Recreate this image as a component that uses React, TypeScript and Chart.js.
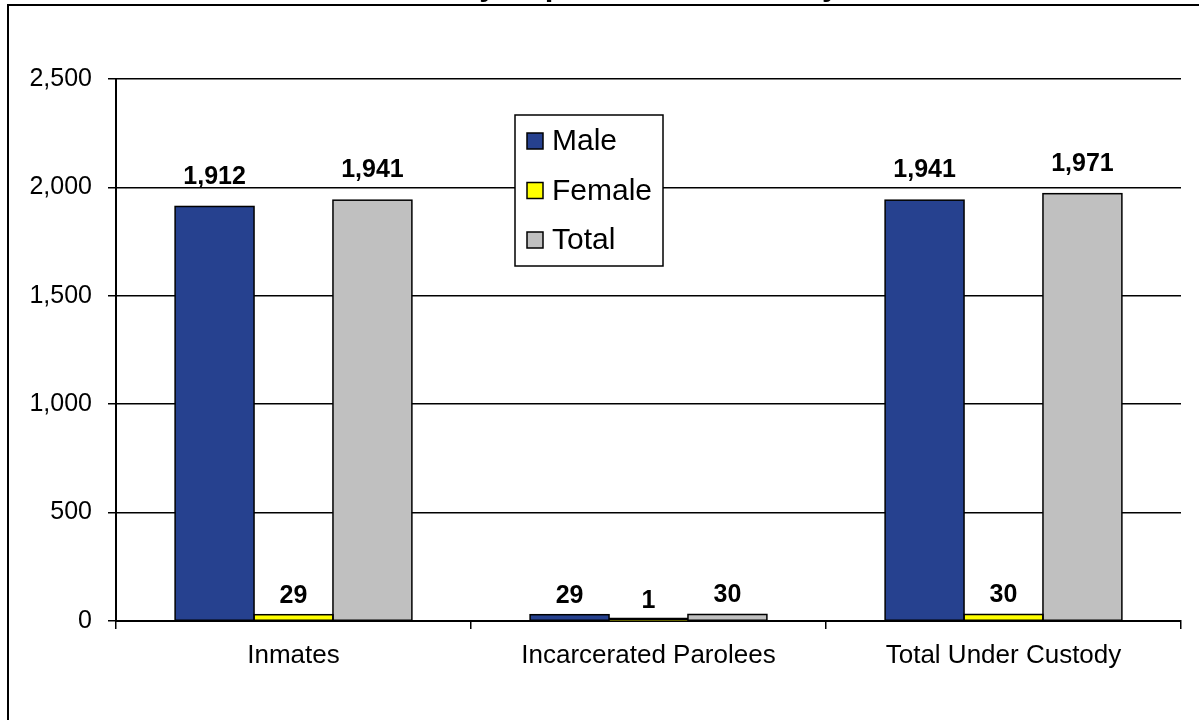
import React, { useEffect, useRef } from "react";
import { Chart, registerables } from "chart.js";

Chart.register(...registerables);

const categories = ["Inmates", "Incarcerated Parolees", "Total Under Custody"];
const seriesNames = ["Male", "Female", "Total"];
const maleValues = [1912, 29, 1941];
const femaleValues = [29, 1, 30];
const totalValues = [1941, 30, 1971];
const seriesColors = ["#26418F", "#FFFF00", "#C0C0C0"];
const yTicks = [0, 500, 1000, 1500, 2000, 2500];
const titleText = "Custody Population on January 1, 2009";

const FONT = "Arial, 'Liberation Sans', sans-serif";

const framePlugin = {
  id: "frame",
  beforeDraw(chart: any) {
    const ctx = chart.ctx;
    ctx.save();
    ctx.fillStyle = "#ffffff";
    ctx.fillRect(0, 0, chart.width, chart.height);
    // title (mostly cut off at the top)
    ctx.fillStyle = "#000";
    ctx.font = "bold 31px " + FONT;
    ctx.textAlign = "center";
    ctx.textBaseline = "alphabetic";
    ctx.fillText(titleText, 662, -5);
    ctx.strokeStyle = "#000";
    ctx.lineWidth = 2;
    ctx.beginPath();
    ctx.moveTo(8, chart.height + 5);
    ctx.lineTo(8, 5);
    ctx.lineTo(chart.width + 5, 5);
    ctx.stroke();
    ctx.restore();
  },
};

const outlinePlugin = {
  id: "outlines",
  afterDatasetsDraw(chart: any) {
    const ctx = chart.ctx;
    ctx.save();
    chart.data.datasets.forEach((ds: any, di: number) => {
      const meta = chart.getDatasetMeta(di);
      meta.data.forEach((bar: any, i: number) => {
        const p = bar.getProps(["x", "y", "base", "width"], true);
        const l = p.x - p.width / 2;
        const top = Math.min(p.y, p.base);
        const h = Math.abs(p.base - p.y);
        ctx.strokeStyle = "#000";
        ctx.lineWidth = 1.5;
        if (h < 2) {
          ctx.fillStyle = "#000";
          ctx.fillRect(l, p.base - 2.5, p.width, 2.5);
        } else {
          ctx.strokeRect(l, top, p.width, h);
        }
        // value label
        const v = ds.data[i];
        ctx.fillStyle = "#000";
        ctx.font = "bold 25px " + FONT;
        ctx.textAlign = "center";
        ctx.textBaseline = "alphabetic";
        const off = 12 + h * 0.026;
        ctx.fillText(v.toLocaleString("en-US"), p.x, top - off);
      });
    });
    ctx.restore();
  },
};

const legendPlugin = {
  id: "boxLegend",
  afterDraw(chart: any) {
    const ctx = chart.ctx;
    const x0 = 515, y0 = 115, w = 148, h = 151;
    ctx.save();
    ctx.fillStyle = "#fff";
    ctx.fillRect(x0, y0, w, h);
    ctx.strokeStyle = "#000";
    ctx.lineWidth = 1.5;
    ctx.strokeRect(x0, y0, w, h);
    ctx.font = "30px " + FONT;
    ctx.textBaseline = "middle";
    ctx.textAlign = "left";
    chart.data.datasets.forEach((ds: any, i: number) => {
      const cy = y0 + 26 + i * 49.5;
      ctx.fillStyle = ds.backgroundColor;
      ctx.fillRect(x0 + 12, cy - 8, 16, 16);
      ctx.strokeStyle = "#000";
      ctx.lineWidth = 1.5;
      ctx.strokeRect(x0 + 12, cy - 8, 16, 16);
      ctx.fillStyle = "#000";
      ctx.fillText(ds.label, x0 + 37, cy + 1);
    });
    ctx.restore();
  },
};

export default function App() {
  const ref = useRef<HTMLCanvasElement | null>(null);
  useEffect(() => {
    if (!ref.current) return;
    const values = [maleValues, femaleValues, totalValues];
    const chart = new Chart(ref.current, {
      type: "bar",
      data: {
        labels: categories,
        datasets: seriesNames.map((n, i) => ({
          label: n,
          data: values[i],
          backgroundColor: seriesColors[i],
          borderWidth: 0,
          categoryPercentage: 0.667,
          barPercentage: 1,
        })),
      },
      options: {
        responsive: false,
        animation: false,
        layout: { padding: { top: 79, right: 18, bottom: 0, left: 0 } },
        plugins: {
          legend: { display: false },
          tooltip: { enabled: false },
          title: { display: false },
        },
        scales: {
          x: {
            offset: true,
            grid: {
              offset: true,
              drawOnChartArea: false,
              drawTicks: true,
              tickLength: 8,
              color: "#000",
              lineWidth: 1.5,
            },
            border: { display: true, color: "#000", width: 2 },
            ticks: {
              color: "#000",
              font: { family: FONT, size: 26 },
              padding: 11,
              maxRotation: 0,
              autoSkip: false,
            },
            afterFit: (s: any) => {
              s.height = 720 - 621;
            },
          },
          y: {
            min: 0,
            max: 2500,
            afterBuildTicks: (s: any) => {
              s.ticks = yTicks.map((v) => ({ value: v }));
            },
            grid: {
              color: "#000",
              lineWidth: 1.5,
              tickLength: 8,
              drawTicks: true,
            },
            border: { display: true, color: "#000", width: 2 },
            ticks: {
              color: "#000",
              font: { family: FONT, size: 25 },
              padding: 16,
              callback: (v: any) => Number(v).toLocaleString("en-US"),
            },
            afterFit: (s: any) => {
              s.width = 116;
            },
          },
        },
      },
      plugins: [framePlugin, outlinePlugin, legendPlugin],
    });
    return () => chart.destroy();
  }, []);
  return (
    <div style={{ position: "absolute", left: 0, top: 0, width: 1199, height: 720 }}>
      <canvas ref={ref} width={1199} height={720} style={{ display: "block" }} />
    </div>
  );
}
